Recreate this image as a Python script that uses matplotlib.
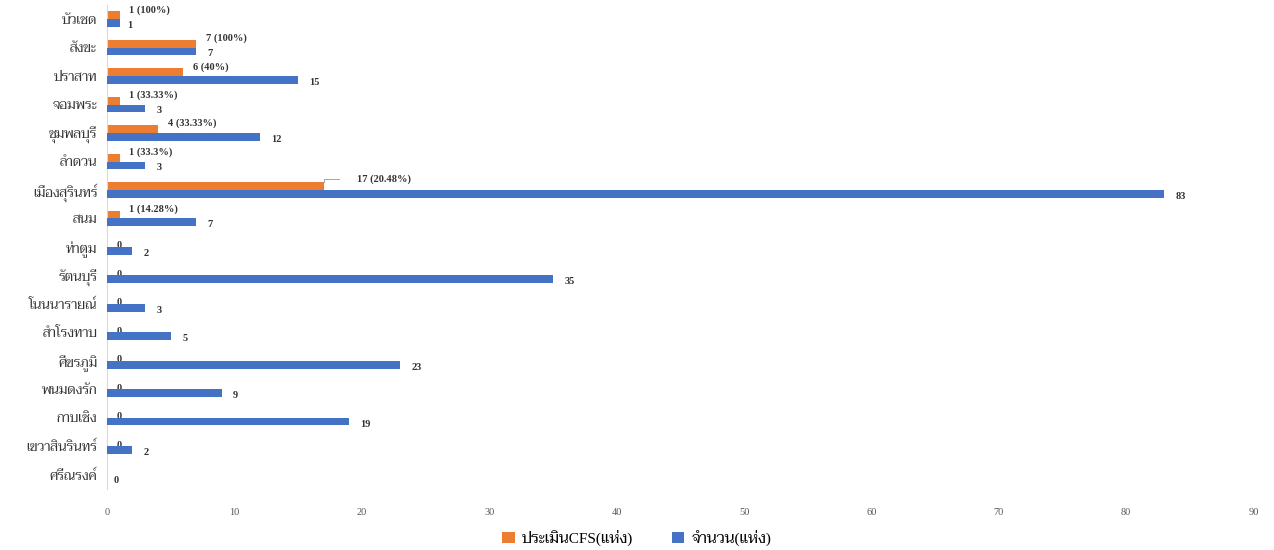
import matplotlib
matplotlib.use('Agg')
import matplotlib.pyplot as plt
import numpy as np

plt.rcParams['font.family'] = ['Liberation Serif', 'Taviraj']

districts = ['บัวเชด', 'สังขะ', 'ปราสาท', 'จอมพระ', 'ชุมพลบุรี', 'ลำดวน',
             'เมืองสุรินทร์', 'สนม', 'ท่าตูม', 'รัตนบุรี', 'โนนนารายณ์',
             'สำโรงทาบ', 'ศีขรภูมิ', 'พนมดงรัก', 'กาบเชิง', 'เขวาสินรินทร์',
             'ศรีณรงค์']
total = [1, 7, 15, 3, 12, 3, 83, 7, 2, 35, 3, 5, 23, 9, 19, 2, 0]
assessed = [1, 7, 6, 1, 4, 1, 17, 1, 0, 0, 0, 0, 0, 0, 0, 0, 0]
assessed_labels = ['1 (100%)', '7 (100%)', '6 (40%)', '1 (33.33%)',
                   '4 (33.33%)', '1 (33.3%)', '17 (20.48%)', '1 (14.28%)',
                   '0', '0', '0', '0', '0', '0', '0', '0', '']

ORANGE = '#ED7D31'
BLUE = '#4472C4'
TXT = '#333333'

fig = plt.figure(figsize=(12.74, 5.5), dpi=100)
ax = fig.add_axes([0.084, 0.111, 0.9, 0.88])

y = np.arange(len(districts))
h = 0.27
ax.barh(y - h / 2, assessed, height=h, color=ORANGE, label='ประเมินCFS(แห่ง)', zorder=2)
ax.barh(y + h / 2, total, height=h, color=BLUE, label='จำนวน(แห่ง)', zorder=3)

for i in range(len(districts)):
    lab = assessed_labels[i]
    if not lab:
        continue
    if lab == '0':
        ax.text(0.75, y[i] - 0.04, '0', fontsize=7.5, fontweight='bold',
                color=TXT, ha='left', va='center', zorder=2)
    elif i == 6:
        ax.plot([assessed[i], assessed[i], assessed[i] + 1.2],
                [y[i] - 0.27, y[i] - 0.37, y[i] - 0.37],
                color='#A6A6A6', lw=0.7)
        ax.text(assessed[i] + 2.6, y[i] - 0.38, lab, fontsize=7.5, fontweight='bold',
                color=TXT, ha='left', va='center')
    else:
        ax.text(assessed[i] + 0.75, y[i] - 0.33, lab, fontsize=7.5, fontweight='bold',
                color=TXT, ha='left', va='center')

for i, v in enumerate(total):
    dx = 0.9 if v > 1 else 0.55
    ax.text(v + dx, y[i] + 0.22, str(v), fontsize=7.5, fontweight='bold',
            color=TXT, ha='left', va='center')

ax.set_xlim(0, 90)
ax.set_ylim(len(districts) - 0.5, -0.5)
ax.set_xticks(np.arange(0, 91, 10))
ax.set_yticks(y)
ax.set_yticklabels(districts, fontsize=9.5, color=TXT)
ax.tick_params(axis='x', length=0, pad=14, labelsize=7.5, colors='#595959')
ax.tick_params(axis='y', length=0, pad=7)
for s in ['top', 'right', 'bottom']:
    ax.spines[s].set_visible(False)
ax.spines['left'].set_color('#D9D9D9')

fig.legend(loc='center', bbox_to_anchor=(0.5, 0.022), ncol=2, frameon=False,
           fontsize=11, handlelength=0.8, handleheight=0.8, columnspacing=2.5,
           handletextpad=0.5)

fig.savefig('out.png')
